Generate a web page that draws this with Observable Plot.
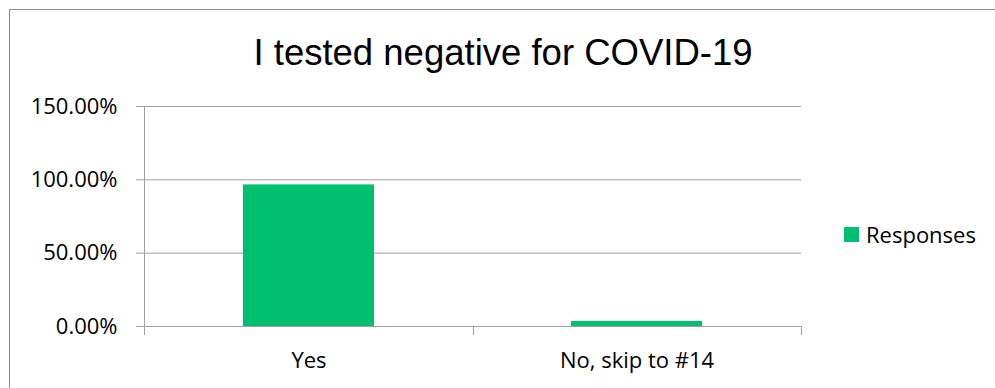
<!DOCTYPE html>
<html>
<head>
<meta charset="utf-8">
<script src="https://cdn.jsdelivr.net/npm/d3@7"></script>
<script src="https://cdn.jsdelivr.net/npm/@observablehq/plot@0.6"></script>
<style>
  body { margin: 0; background: #fff; }
  #chart { position: relative; width: 995px; height: 388px; overflow: hidden; background: #fff; }
  #border { position: absolute; left: 9px; top: 9px; width: 1000px; height: 400px; border: 1px solid #8c8c8c; box-sizing: border-box; }
  #plot { position: absolute; left: 0; top: 0; }
  #title { position: absolute; top: 35px; left: 503px; transform: translateX(-50%); white-space: nowrap;
           font-family: "Liberation Sans", Arial, sans-serif; font-size: 36.5px; line-height: 1; color: #000; }
  #legend { position: absolute; left: 844px; top: 223px; font-family: "Open Sans", sans-serif; font-size: 22px;
            line-height: 1; color: #000; white-space: nowrap; }
  #legend .sw { position: absolute; left: 0; top: 4px; width: 15px; height: 15px; }
  #legend .lab { position: absolute; left: 22px; top: 0; }
</style>
</head>
<body>
<div id="chart">
  <div id="border"></div>
  <div id="plot"></div>
  <div id="title"></div>
  <div id="legend"><span class="sw"></span><span class="lab"></span></div>
</div>
<script>
// Survey question and answer shares
const title = "I tested negative for COVID-19";
const answers = ["Yes", "No, skip to #14"];
const shares = [0.9655, 0.0345];
const seriesName = "Responses";
const yTicks = [0, 0.5, 1, 1.5];

const green = "#00bf6f";
const gridColor = "#a0a0a0";

const data = answers.map((answer, i) => ({answer, share: shares[i]}));
const pct = d => (d * 100).toFixed(2) + "%";

// Left axis line plus Excel-style tick marks between categories
function categoryFrame(index, scales, values, dims) {
  const g = d3.create("svg:g").attr("stroke", gridColor).attr("stroke-width", 1);
  const x0 = dims.marginLeft;
  const x1 = dims.width - dims.marginRight;
  const yb = scales.y(0);
  const yt = scales.y(d3.max(yTicks));
  g.append("line").attr("x1", x0 + 0.5).attr("x2", x0 + 0.5).attr("y1", yt).attr("y2", yb + 9);
  const n = answers.length;
  for (let i = 1; i <= n; i++) {
    const x = Math.round(x0 + (x1 - x0) * i / n) + 0.5;
    g.append("line").attr("x1", x).attr("x2", x).attr("y1", yb).attr("y2", yb + 9);
  }
  return g.node();
}

const chart = Plot.plot({
  width: 995,
  height: 388,
  marginLeft: 144,
  marginRight: 194,
  marginTop: 106,
  marginBottom: 62,
  style: {fontFamily: "'Open Sans', sans-serif", fontSize: "22px", color: "#000", background: "transparent", overflow: "visible"},
  x: {domain: answers, paddingInner: 0.6, paddingOuter: 0.3, label: null},
  y: {domain: [0, d3.max(yTicks)], label: null},
  marks: [
    Plot.ruleY(yTicks, {y: d => d, stroke: gridColor, insetLeft: -8}),
    Plot.barY(data, {x: "answer", y: "share", fill: green}),
    Plot.ruleY([0], {stroke: gridColor, insetLeft: -8}),
    categoryFrame,
    Plot.axisY({ticks: yTicks, tickFormat: pct, tickSize: 0, tickPadding: 27, label: null}),
    Plot.axisX({tickSize: 0, tickPadding: 26, label: null})
  ]
});

document.getElementById("plot").appendChild(chart);
document.getElementById("title").textContent = title;
document.querySelector("#legend .sw").style.background = green;
document.querySelector("#legend .lab").textContent = seriesName;
</script>
</body>
</html>
